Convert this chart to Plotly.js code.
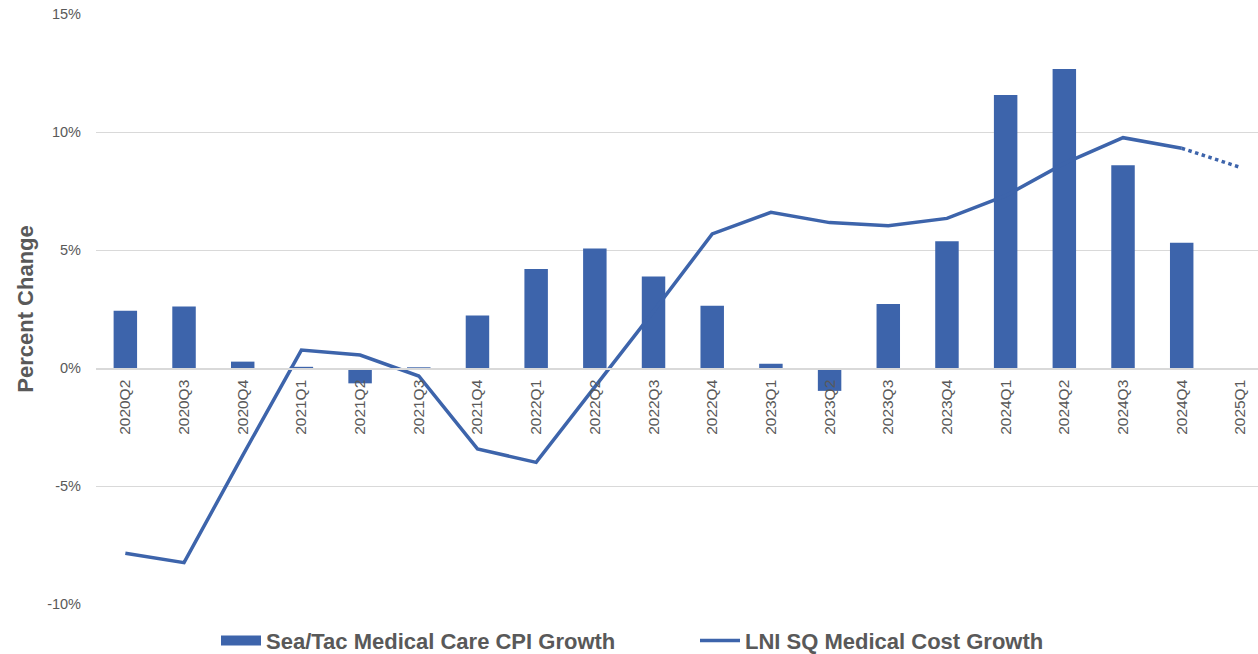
<!DOCTYPE html>
<html>
<head>
<meta charset="utf-8">
<script src="https://cdn.plot.ly/plotly-3.0.1.min.js"></script>
<style>
  html, body { margin: 0; padding: 0; background: #fff; }
  #chart { width: 1258px; height: 654px; }
</style>
</head>
<body>
<div id="chart"></div>
<script>
// Quarter labels on the category axis
const quarters = [
  "2020Q2", "2020Q3", "2020Q4", "2021Q1", "2021Q2", "2021Q3", "2021Q4",
  "2022Q1", "2022Q2", "2022Q3", "2022Q4", "2023Q1", "2023Q2", "2023Q3",
  "2023Q4", "2024Q1", "2024Q2", "2024Q3", "2024Q4", "2025Q1",
];

// Sea/Tac Medical Care CPI growth (%), no value yet for 2025Q1
const cpiGrowth = [
  2.43, 2.61, 0.27, 0.05, -0.65, 0.03, 2.22,
  4.19, 5.06, 3.88, 2.64, 0.18, -0.97, 2.71,
  5.37, 11.57, 12.67, 8.59, 5.31, null,
];

// LNI SQ medical cost growth (%), actual quarters
const lniQuarters = quarters.slice(0, 19);
const lniGrowth = [
  -7.85, -8.25, -3.7, 0.76, 0.55, -0.34, -3.43,
  -4.0, -0.8, 2.4, 5.68, 6.6, 6.16, 6.03,
  6.34, 7.3, 8.67, 9.76, 9.31,
];

// projected segment (dotted)
const projQuarters = ["2024Q4", "2025Q1"];
const projGrowth = [9.31, 8.5];

// y axis ticks
const yTicks = [-10, -5, 0, 5, 10, 15];
const yTickText = ["-10%", "-5%", "0%", "5%", "10%", "15%"];

const blue = "#3D64AB";
const grey = "#595959";

const barTrace = {
  x: quarters,
  y: cpiGrowth,
  type: "bar",
  name: "Sea/Tac Medical Care CPI Growth",
  marker: { color: blue },
  showlegend: false,
};

// legend entry only, gives the wide block swatch
const barKey = {
  x: [null],
  y: [null],
  type: "scatter",
  mode: "lines",
  name: "Sea/Tac Medical Care CPI Growth",
  line: { color: blue, width: 16 },
};

const lineTrace = {
  x: lniQuarters,
  y: lniGrowth,
  type: "scatter",
  mode: "lines",
  name: "LNI SQ Medical Cost Growth",
  line: { color: blue, width: 3.5 },
};

const projTrace = {
  x: projQuarters,
  y: projGrowth,
  type: "scatter",
  mode: "lines",
  showlegend: false,
  line: { color: blue, width: 3.5, dash: "dot" },
};

const layout = {
  width: 1258,
  height: 654,
  margin: { l: 96, r: 0, t: 14, b: 50, autoexpand: false },
  paper_bgcolor: "#fff",
  plot_bgcolor: "#fff",
  bargap: 0.6,
  font: { family: "Liberation Sans, Arial, sans-serif", color: grey },
  xaxis: {
    type: "category",
    categoryorder: "array",
    categoryarray: quarters,
    range: [-0.5, 19.3],
    anchor: "free",
    position: 236 / 590,
    tickangle: -90,
    ticks: "",
    ticklabelstandoff: 4,
    showgrid: false,
    showline: true,
    linecolor: "#D9D9D9",
    linewidth: 1.5,
    tickfont: { size: 15.5, color: grey },
  },
  yaxis: {
    range: [-10, 15],
    tickmode: "array",
    tickvals: yTicks,
    ticktext: yTickText,
    showgrid: true,
    gridcolor: "#D9D9D9",
    gridwidth: 1,
    zeroline: false,
    ticks: "",
    ticklabelstandoff: 14,
    tickfont: { size: 14.5, color: grey },
    title: {
      text: "<b>Percent Change</b>",
      font: { size: 22, color: grey },
      standoff: 7,
    },
  },
  legend: {
    orientation: "h",
    x: (216 - 96) / 1162,
    xanchor: "left",
    y: -0.062,
    yanchor: "middle",
    font: { size: 22, color: grey, weight: "bold" },
    itemwidth: 40,
    entrywidth: 424,
    traceorder: "normal",
  },
  showlegend: true,
};

Plotly.newPlot("chart", [barTrace, barKey, lineTrace, projTrace], layout, {
  displayModeBar: false,
  staticPlot: true,
});
</script>
</body>
</html>
